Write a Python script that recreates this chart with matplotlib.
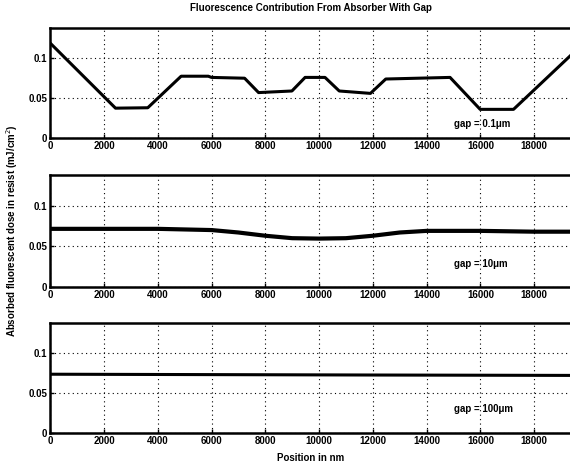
import matplotlib
matplotlib.use("Agg")
import matplotlib.pyplot as plt

plt.rcParams['font.family'] = ['Liberation Sans', 'DejaVu Sans']

# gap = 0.1 um profile
pos_a = [0, 2430, 3630, 4870, 5880, 6000, 7230, 7750, 8990, 9480, 10220,
         10750, 11910, 12480, 14870, 15990, 17230, 19480]
dose_a = [0.119, 0.0375, 0.038, 0.0775, 0.0775, 0.076, 0.075, 0.057, 0.059,
          0.076, 0.076, 0.059, 0.056, 0.074, 0.076, 0.036, 0.036, 0.1075]

# gap = 10 um profile
pos_b = [0, 4000, 6000, 7000, 8000, 9000, 10000, 11000, 12000, 13000, 14000,
         16000, 18000, 19500]
dose_b = [0.0715, 0.0715, 0.070, 0.067, 0.063, 0.060, 0.0595, 0.060, 0.063,
          0.067, 0.069, 0.069, 0.068, 0.068]

# gap = 100 um profile
pos_c = [0, 6000, 12000, 19500]
dose_c = [0.0735, 0.0730, 0.0725, 0.072]

labels = ['gap = 0.1\u03bcm', 'gap = 10\u03bcm', 'gap = 100\u03bcm']
label_y = [0.018, 0.028, 0.03]

xticks = list(range(0, 18001, 2000))
yticks = [0, 0.05, 0.1]

fig = plt.figure(figsize=(5.7, 4.65), dpi=100)
rects = [[0.088, 0.703, 0.92, 0.237],
         [0.088, 0.383, 0.92, 0.241],
         [0.088, 0.069, 0.92, 0.237]]
series = [(pos_a, dose_a), (pos_b, dose_b), (pos_c, dose_c)]
widths = [2.2, 3.0, 2.2]

for rect, (px, py), lab, ly, lw in zip(rects, series, labels, label_y, widths):
    ax = fig.add_axes(rect)
    ax.plot(px, py, color='black', lw=lw)
    ax.set_xlim(0, 19500)
    ax.set_ylim(0, 0.138)
    ax.set_xticks(xticks)
    ax.set_xticklabels([str(t) for t in xticks], fontweight='bold')
    ax.set_yticks(yticks)
    ax.set_yticklabels(['0', '0.05', '0.1'], fontweight='bold')
    ax.grid(True, color='black', linestyle=(0, (1, 3)), lw=0.8)
    ax.tick_params(labelsize=7, length=3, width=1, direction='in', pad=2)
    for s in ax.spines.values():
        s.set_linewidth(1.8)
    ax.text(15000, ly, lab, fontsize=7, fontweight='bold', va='center', ha='left')

fig.text(0.545, 0.982, 'Fluorescence Contribution From Absorber With Gap',
         ha='center', va='center', fontsize=7, fontweight='bold')
fig.text(0.545, 0.014, 'Position in nm', ha='center', va='center',
         fontsize=7, fontweight='bold')
fig.text(0.021, 0.505, 'Absorbed fluorescent dose in resist (mJ/cm$^2$)',
         ha='center', va='center', rotation=90, fontsize=7, fontweight='bold')

fig.savefig('out.png', dpi=100)
